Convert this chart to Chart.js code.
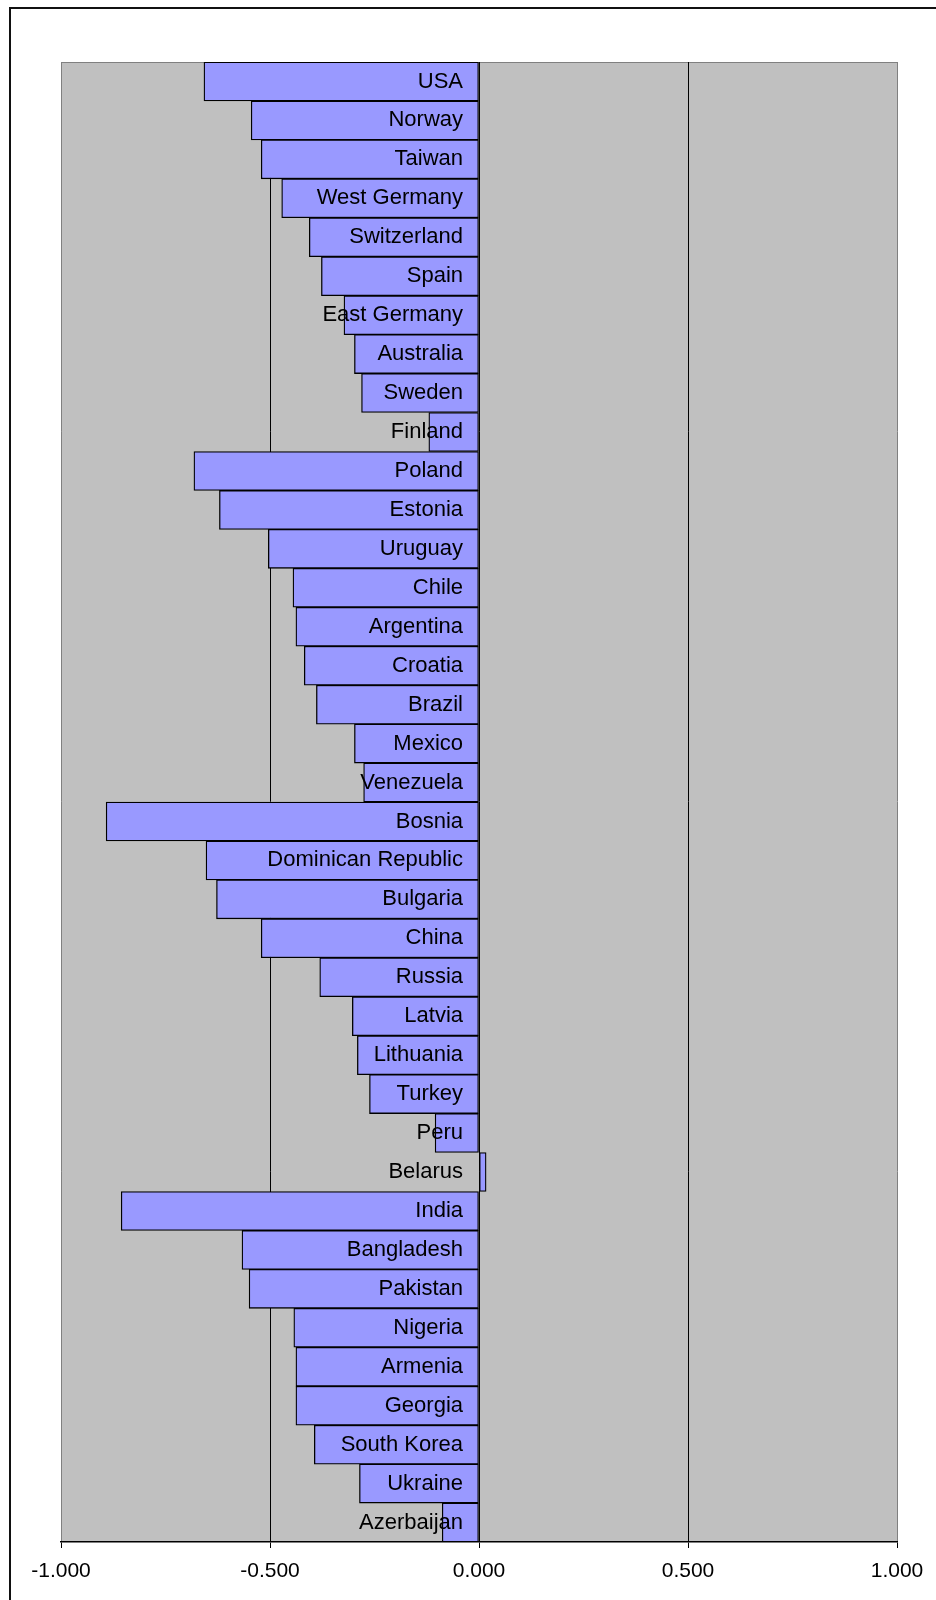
<!DOCTYPE html>
<html>
<head>
<meta charset="utf-8">
<script src="https://cdn.jsdelivr.net/npm/chart.js@4.4.1/dist/chart.umd.min.js"></script>
<style>
  html, body { margin:0; padding:0; background:#fff; overflow:hidden; }
  #wrap { position:relative; width:936px; height:1600px; }
  #frame { position:absolute; left:9px; top:7px; width:1000px; height:1700px; border:2px solid #111; box-sizing:border-box; }
  #chart { position:absolute; left:0; top:0; }
</style>
</head>
<body>
<div id="wrap">
  <div id="frame"></div>
  <canvas id="chart" width="936" height="1600"></canvas>
</div>
<script>
// ── Data ─────────────────────────────────────────────
const COUNTRIES = [
  "USA","Norway","Taiwan","West Germany","Switzerland","Spain","East Germany",
  "Australia","Sweden","Finland","Poland","Estonia","Uruguay","Chile","Argentina",
  "Croatia","Brazil","Mexico","Venezuela","Bosnia","Dominican Republic","Bulgaria",
  "China","Russia","Latvia","Lithuania","Turkey","Peru","Belarus","India",
  "Bangladesh","Pakistan","Nigeria","Armenia","Georgia","South Korea","Ukraine","Azerbaijan"
];
const VALUES = [
  -0.658,-0.545,-0.521,-0.472,-0.406,-0.377,-0.323,
  -0.298,-0.281,-0.120,-0.682,-0.621,-0.504,-0.445,-0.438,
  -0.418,-0.389,-0.298,-0.276,-0.892,-0.653,-0.628,
  -0.521,-0.381,-0.303,-0.291,-0.262,-0.105,0.017,-0.856,
  -0.567,-0.550,-0.443,-0.438,-0.438,-0.394,-0.286,-0.088
];
const X_MIN = -1, X_MAX = 1, X_STEP = 0.5;

const FONT = "'Liberation Sans', Arial, sans-serif";

// ── Plugins ──────────────────────────────────────────
const plotBg = {
  id: "plotBg",
  beforeDraw(chart) {
    const { ctx, chartArea: a } = chart;
    ctx.save();
    ctx.fillStyle = "#C0C0C0";
    ctx.fillRect(a.left, a.top, a.right - a.left, a.bottom - a.top);
    ctx.strokeStyle = "#808080";
    ctx.lineWidth = 1;
    ctx.beginPath();
    ctx.moveTo(a.left, a.top + 0.5);
    ctx.lineTo(a.right, a.top + 0.5);
    ctx.stroke();
    ctx.restore();
  }
};

const barLabels = {
  id: "barLabels",
  afterDatasetsDraw(chart) {
    const { ctx } = chart;
    const x0 = chart.scales.x.getPixelForValue(0);
    const meta = chart.getDatasetMeta(0);
    ctx.save();
    ctx.font = "22px " + FONT;
    ctx.fillStyle = "#000";
    ctx.textAlign = "right";
    ctx.textBaseline = "middle";
    meta.data.forEach((bar, i) => {
      ctx.fillText(COUNTRIES[i], x0 - 16, bar.y);
    });
    ctx.restore();
  }
};

// ── Chart ────────────────────────────────────────────
new Chart(document.getElementById("chart"), {
  type: "bar",
  data: {
    labels: COUNTRIES,
    datasets: [{
      data: VALUES,
      backgroundColor: "#9999FF",
      borderColor: "#000",
      borderWidth: 1.3,
      borderSkipped: false,
      categoryPercentage: 1,
      barPercentage: 1
    }]
  },
  options: {
    indexAxis: "y",
    responsive: false,
    animation: false,
    layout: { padding: { left: 61, right: 39, top: 62, bottom: 0 } },
    plugins: { legend: { display: false }, tooltip: { enabled: false } },
    scales: {
      y: { display: false },
      x: {
        min: X_MIN, max: X_MAX,
        afterFit(scale) { scale.height = 58; },
        ticks: {
          stepSize: X_STEP,
          padding: 11,
          color: "#000",
          font: { family: FONT, size: 21 },
          callback: v => v.toFixed(3)
        },
        grid: {
          drawOnChartArea: true,
          tickLength: 6,
          tickColor: "#000",
          lineWidth: 1,
          color: c => (c.tick && Math.abs(c.tick.value) === 1) ? "#808080" : "#000"
        },
        border: { display: true, color: "#000", width: 1.5 }
      }
    }
  },
  plugins: [plotBg, barLabels]
});
</script>
</body>
</html>
